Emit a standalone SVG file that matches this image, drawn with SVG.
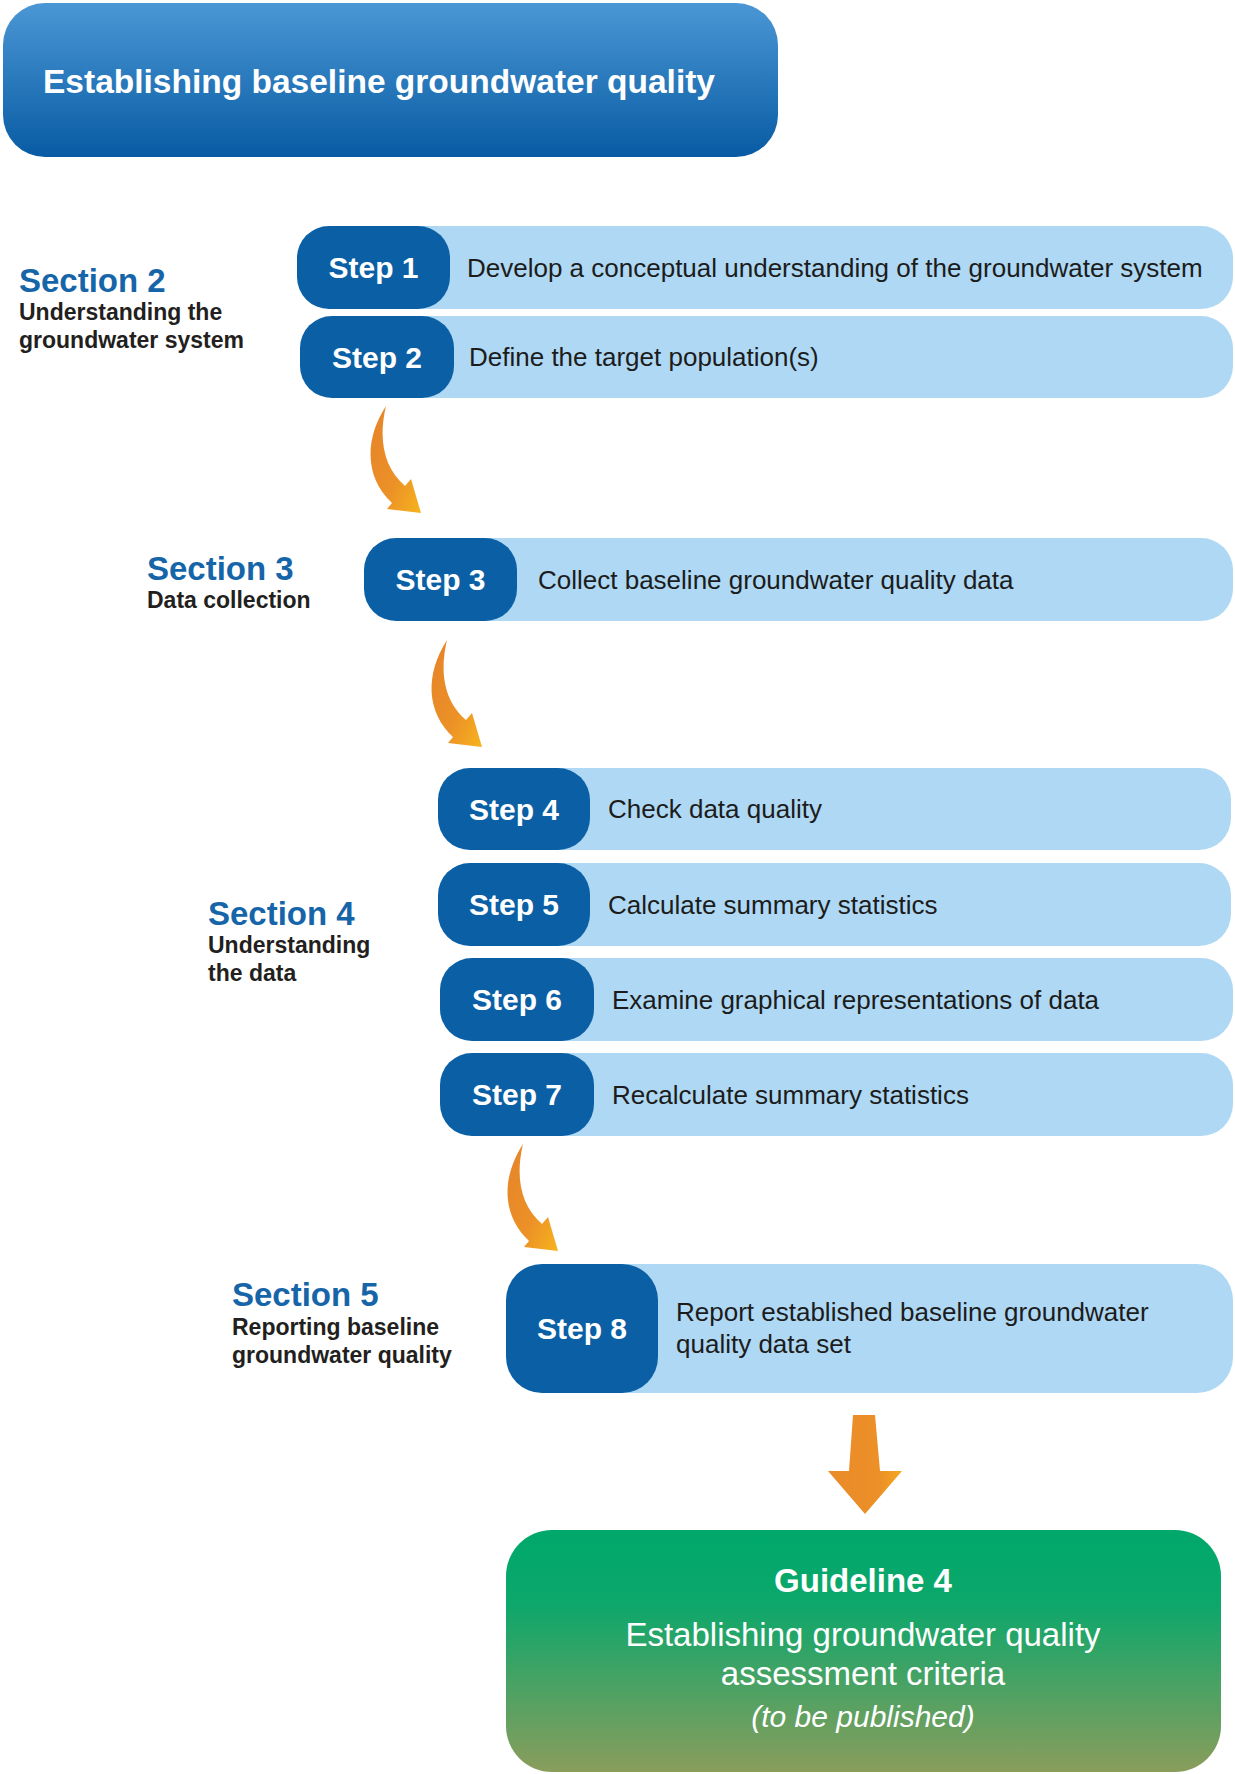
<svg xmlns="http://www.w3.org/2000/svg" xmlns:xlink="http://www.w3.org/1999/xlink" width="1235" height="1774" viewBox="0 0 1235 1774">
<defs>
<linearGradient id="gTitle" x1="0" y1="0" x2="0" y2="1">
<stop offset="0" stop-color="#4b97d5"/>
<stop offset="1" stop-color="#085ba3"/>
</linearGradient>
<linearGradient id="gGreen" x1="0" y1="0" x2="0" y2="1">
<stop offset="0" stop-color="#00a86b"/>
<stop offset="0.3" stop-color="#0ca76b"/>
<stop offset="1" stop-color="#8a9d5c"/>
</linearGradient>
<linearGradient id="gCurve" x1="0" y1="0" x2="1" y2="1">
<stop offset="0" stop-color="#e5832a"/>
<stop offset="0.6" stop-color="#ec9127"/>
<stop offset="1" stop-color="#f6b41d"/>
</linearGradient>
<linearGradient id="gDown" x1="0" y1="0" x2="1" y2="0">
<stop offset="0" stop-color="#ea8a2a"/>
<stop offset="0.7" stop-color="#ec9027"/>
<stop offset="1" stop-color="#f4a91f"/>
</linearGradient>
<path id="curveArrow" d="M386,406 C364,440 365,478 392,503 L387,509 L421,513 L411,479 L405,486 C384,468 378,440 386,406 Z"/>
<style>
.light{fill:#aed8f3}
.dark{fill:#0b5fa5}
.lbl{font-family:"Liberation Sans",Arial,sans-serif;font-weight:bold;font-size:30px;fill:#ffffff;text-anchor:middle}
.desc{font-family:"Liberation Sans",Arial,sans-serif;font-size:26px;fill:#1c1c1c}
.sec{font-family:"Liberation Sans",Arial,sans-serif;font-weight:bold;font-size:33px;fill:#1765a9}
.sub{font-family:"Liberation Sans",Arial,sans-serif;font-weight:bold;font-size:23px;fill:#231f20}
.wt{font-family:"Liberation Sans",Arial,sans-serif;fill:#ffffff;text-anchor:middle}
</style>
</defs>
<rect width="1235" height="1774" fill="#ffffff"/>

<g id="title">
<rect x="3" y="3" width="775" height="154" rx="42" fill="url(#gTitle)"/>
<text x="43" y="93" style="font-family:'Liberation Sans',Arial,sans-serif;font-weight:bold;font-size:33.5px;fill:#ffffff">Establishing baseline groundwater quality</text>
</g>

<g id="section2">
<text class="sec" x="19" y="292">Section 2</text>
<text class="sub" x="19" y="320">Understanding the</text>
<text class="sub" x="19" y="348">groundwater system</text>
</g>
<g id="section3">
<text class="sec" x="147" y="580">Section 3</text>
<text class="sub" x="147" y="608">Data collection</text>
</g>
<g id="section4">
<text class="sec" x="208" y="925">Section 4</text>
<text class="sub" x="208" y="953">Understanding</text>
<text class="sub" x="208" y="981">the data</text>
</g>
<g id="section5">
<text class="sec" x="232" y="1306">Section 5</text>
<text class="sub" x="232" y="1335">Reporting baseline</text>
<text class="sub" x="232" y="1363">groundwater quality</text>
</g>

<g id="step1">
<rect class="light" x="380" y="226" width="853" height="83" rx="32"/>
<rect class="dark" x="297" y="226" width="153" height="83" rx="32"/>
<text class="lbl" x="373.5" y="278">Step 1</text>
<text class="desc" x="467" y="277">Develop a conceptual understanding of the groundwater system</text>
</g>
<g id="step2">
<rect class="light" x="380" y="316" width="853" height="82" rx="32"/>
<rect class="dark" x="300" y="316" width="154" height="82" rx="32"/>
<text class="lbl" x="377" y="368">Step 2</text>
<text class="desc" x="469" y="366">Define the target population(s)</text>
</g>
<g id="step3">
<rect class="light" x="440" y="538" width="793" height="83" rx="32"/>
<rect class="dark" x="364" y="538" width="153" height="83" rx="32"/>
<text class="lbl" x="440.5" y="590">Step 3</text>
<text class="desc" x="538" y="589">Collect baseline groundwater quality data</text>
</g>
<g id="step4">
<rect class="light" x="510" y="768" width="721" height="82" rx="32"/>
<rect class="dark" x="438" y="768" width="152" height="82" rx="32"/>
<text class="lbl" x="514" y="820">Step 4</text>
<text class="desc" x="608" y="818">Check data quality</text>
</g>
<g id="step5">
<rect class="light" x="510" y="863" width="721" height="83" rx="32"/>
<rect class="dark" x="438" y="863" width="152" height="83" rx="32"/>
<text class="lbl" x="514" y="915">Step 5</text>
<text class="desc" x="608" y="914">Calculate summary statistics</text>
</g>
<g id="step6">
<rect class="light" x="510" y="958" width="723" height="83" rx="32"/>
<rect class="dark" x="440" y="958" width="154" height="83" rx="32"/>
<text class="lbl" x="517" y="1010">Step 6</text>
<text class="desc" x="612" y="1009">Examine graphical representations of data</text>
</g>
<g id="step7">
<rect class="light" x="510" y="1053" width="723" height="83" rx="32"/>
<rect class="dark" x="440" y="1053" width="154" height="83" rx="32"/>
<text class="lbl" x="517" y="1105">Step 7</text>
<text class="desc" x="612" y="1104">Recalculate summary statistics</text>
</g>
<g id="step8">
<rect class="light" x="580" y="1264" width="653" height="129" rx="36"/>
<rect class="dark" x="506" y="1264" width="152" height="129" rx="36"/>
<text class="lbl" x="582" y="1339">Step 8</text>
<text class="desc" x="676" y="1321">Report established baseline groundwater</text>
<text class="desc" x="676" y="1353">quality data set</text>
</g>

<g id="guideline4">
<rect x="506" y="1530" width="715" height="242" rx="46" fill="url(#gGreen)"/>
<text class="wt" x="863" y="1592" style="font-weight:bold;font-size:33px">Guideline 4</text>
<text class="wt" x="863" y="1646" style="font-size:33px">Establishing groundwater quality</text>
<text class="wt" x="863" y="1685" style="font-size:33px">assessment criteria</text>
<text class="wt" x="863" y="1727" style="font-size:30px;font-style:italic">(to be published)</text>
</g>

<g id="connectors">
<use xlink:href="#curveArrow" fill="url(#gCurve)"/>
<use xlink:href="#curveArrow" fill="url(#gCurve)" transform="translate(61,234)"/>
<use xlink:href="#curveArrow" fill="url(#gCurve)" transform="translate(137,738)"/>
<path d="M853,1415 L875,1415 L880,1471 L902,1471 L865,1514 L828,1471 L849,1471 Z" fill="url(#gDown)"/>
</g>
</svg>
